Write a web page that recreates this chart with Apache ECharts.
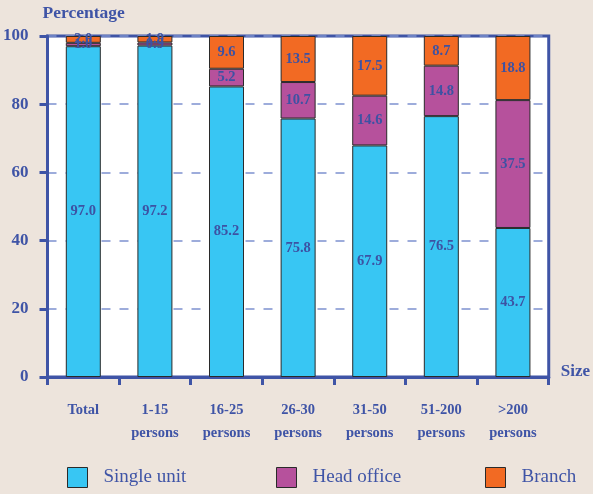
<!DOCTYPE html>
<html><head><meta charset="utf-8">
<script src="https://cdn.jsdelivr.net/npm/echarts@6/dist/echarts.min.js"></script>
<style>html,body{margin:0;padding:0;background:#ede4dc}#c{width:593px;height:494px}</style>
</head><body><div id="c"></div>
<script>
const categories = ['Total', '1-15\npersons', '16-25\npersons', '26-30\npersons', '31-50\npersons', '51-200\npersons', '>200\npersons'];
const singleUnit = [97.0, 97.2, 85.2, 75.8, 67.9, 76.5, 43.7];
const headOffice = [1.0, 0.9, 5.2, 10.7, 14.6, 14.8, 37.5];
const branch = [2.0, 1.9, 9.6, 13.5, 17.5, 8.7, 18.8];
const yTicks = [0, 20, 40, 60, 80, 100];

const BLUE = '#3f54a6';
const FONT = '"Liberation Serif", "Times New Roman", serif';
const chart = echarts.init(document.getElementById('c'));
const lbl = {show: true, position: 'inside', color: '#3d52a3', fontFamily: FONT, fontWeight: 'bold', fontSize: 14.5,
  formatter: p => p.value.toFixed(1)};
const mk = (name, data, color) => ({
  name, type: 'bar', stack: 'a', data, barWidth: 35,
  itemStyle: {color, borderColor: '#2a2a2a', borderWidth: 1},
  label: lbl
});
const legendBase = (name, left) => ({
  data: [name], left, top: 467, padding: 0, itemWidth: 20, itemHeight: 20, icon: 'rect',
  itemStyle: {borderColor: '#2a2a2a', borderWidth: 1},
  textStyle: {color: BLUE, fontFamily: FONT, fontSize: 19, padding: [9, 0, 0, 11]}
});
chart.setOption({
  backgroundColor: '#ede4dc',
  animation: false,
  grid: {left: 43, right: 41, top: 36, bottom: 117, show: true, backgroundColor: '#ffffff', borderColor: BLUE, borderWidth: 3},
  legend: [legendBase('Single unit', 67), legendBase('Head office', 276), legendBase('Branch', 485)],
  xAxis: {
    type: 'category', data: categories,
    name: 'Size', nameLocation: 'end', nameGap: 12,
    nameTextStyle: {color: BLUE, fontFamily: FONT, fontWeight: 'bold', fontSize: 17, verticalAlign: 'bottom', lineHeight: 10},
    axisLine: {lineStyle: {color: BLUE, width: 3}},
    axisTick: {show: true, length: 8, lineStyle: {color: BLUE, width: 3}},
    axisLabel: {color: BLUE, fontFamily: FONT, fontWeight: 'bold', fontSize: 14.5, margin: 22, lineHeight: 23}
  },
  yAxis: {
    type: 'value', min: 0, max: 100, interval: 20,
    name: 'Percentage', nameLocation: 'end', nameGap: 14,
    nameTextStyle: {color: BLUE, fontFamily: FONT, fontWeight: 'bold', fontSize: 17.5, align: 'left', padding: [0, 0, 0, -5]},
    axisLine: {show: true, lineStyle: {color: BLUE, width: 3}},
    axisTick: {show: true, length: 8, lineStyle: {color: BLUE, width: 3}},
    axisLabel: {color: BLUE, fontFamily: FONT, fontWeight: 'bold', fontSize: 17, margin: 19,
      formatter: v => yTicks.includes(v) ? String(v) : ''},
    splitLine: {show: true, lineStyle: {color: '#7d91cf', width: 1.5, type: [9, 9]}}
  },
  series: [
    mk('Single unit', singleUnit, '#38c6f3'),
    mk('Head office', headOffice, '#b6519c'),
    mk('Branch', branch, '#f26a23')
  ]
});
</script></body></html>
